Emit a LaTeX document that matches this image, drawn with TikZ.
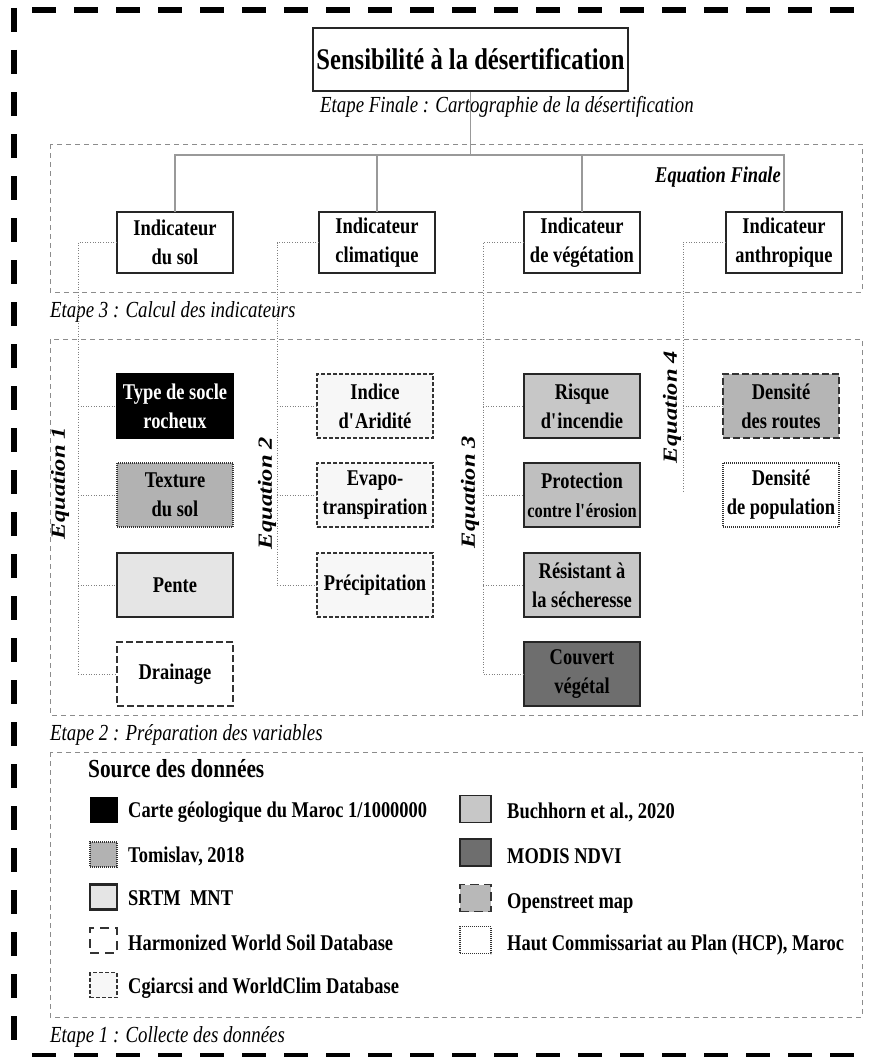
\documentclass[tikz,border=0pt]{standalone}
\usepackage{fontspec}
\usepackage{graphicx}
\setmainfont{Liberation Serif}[FakeStretch=0.82]
\newfontfamily\eqfont{Liberation Serif}
\tikzset{
  outer/.style={line width=5.5pt, dash pattern=on 24pt off 18pt, draw=black},
  region/.style={draw=black!45, line width=0.9pt, dash pattern=on 5pt off 4pt},
  conn/.style={draw=black!40, line width=1.3pt},
  dotc/.style={draw=black!50, line width=1pt, dash pattern=on 1pt off 1.6pt},
  bsolid/.style={draw=black!85, line width=1.6pt},
  bdashL/.style={draw=black!80, line width=1.6pt, dash pattern=on 7pt off 3pt},
  bdashS/.style={draw=black!80, line width=1.5pt, dash pattern=on 4pt off 2pt},
  bdot/.style={draw=black!80, line width=1.6pt, dash pattern=on 1pt off 1pt},
  boxfont/.style={font=\fontsize{22.5}{29}\selectfont\bfseries},
  vbox/.style={boxfont, minimum width=116pt, minimum height=64pt, inner sep=0pt, outer sep=0pt, anchor=north west, align=center},
  indbox/.style={boxfont, bsolid, fill=white, minimum width=116pt, minimum height=61pt, inner sep=0pt, outer sep=0pt, anchor=north, align=center},
  titlebox/.style={bsolid, fill=white, minimum width=315pt, minimum height=63pt, inner sep=0pt, font=\fontsize{30}{32}\selectfont\bfseries},
  lab/.style={anchor=base west, inner sep=0pt, font=\fontsize{23}{25}\selectfont\itshape},
  eqf/.style={anchor=base east, inner sep=0pt, font=\fontsize{22.5}{25}\selectfont\bfseries\itshape},
  eqv/.style={rotate=90, inner sep=0pt},
  lsq/.style={minimum width=27pt, minimum height=25pt, inner sep=0pt, outer sep=0pt},
  rsq/.style={minimum width=31pt, minimum height=27pt, inner sep=0pt, outer sep=0pt},
  ltext/.style={anchor=base west, inner sep=0pt, font=\fontsize{22.5}{25}\selectfont\bfseries},
}
\newcommand{\eqlabel}[1]{\scalebox{1}[0.82]{\eqfont\fontsize{24.5}{26}\selectfont\bfseries\itshape #1}}
\begin{document}
\begin{tikzpicture}[x=1pt,y=-1pt]
\useasboundingbox (0,0) rectangle (868,1057);
% outer frame
\draw[outer] (32,10) -- (868,10);
\draw[outer] (14,8) -- (14,1057);
\draw[outer] (32,1056) -- (868,1056);
% stage regions
\draw[region] (50,144) rectangle (862,292);
\draw[region] (50,339) rectangle (862,715);
\draw[region] (50,752) rectangle (862,1017);

% final stage
\node[titlebox] (title) at (470.5,59.5) {Sensibilité à la désertification};
\node[lab] (etF) at (320,112) {Etape Finale : Cartographie de la désertification};

% indicators
\node[indbox] (ind1) at (175,212) {Indicateur\\du sol};
\node[indbox] (ind2) at (377,212) {Indicateur\\climatique};
\node[indbox] (ind3) at (582,212) {Indicateur\\de végétation};
\node[indbox] (ind4) at (784,212) {Indicateur\\anthropique};
\node[eqf] (eqF) at (781,182) {Equation Finale};
\node[lab] (et3) at (50,317) {Etape 3 : Calcul des indicateurs};

\coordinate (bus) at (0,155);
\draw[conn] (title.south) -- (title.south |- bus);
\draw[conn] (ind1.north) |- (ind4.north |- bus) -- (ind4.north);
\draw[conn] (ind2.north) -- (ind2.north |- bus);
\draw[conn] (ind3.north) -- (ind3.north |- bus);

% variables
\node[vbox, bsolid, draw=black, fill=black, text=white] (v11) at (117,374) {Type de socle\\rocheux};
\node[vbox, bdot, fill=black!30] (v12) at (117,463) {Texture\\du sol};
\node[vbox, bsolid, fill=black!10] (v13) at (117,553) {Pente};
\node[vbox, bdashL, fill=white] (v14) at (117,642) {Drainage};

\node[vbox, bdashS, fill=black!3] (v21) at (317,374) {Indice\\d\textquotesingle Aridité};
\node[vbox, bdashS, fill=black!3] (v22) at (317,463) {Evapo-\\transpiration};
\node[vbox, bdashS, fill=black!3] (v23) at (317,553) {Précipitation};

\node[vbox, bsolid, fill=black!22] (v31) at (524,374) {Risque\\d\textquotesingle incendie};
\node[vbox, bsolid, line width=2.2pt, fill=black!25] (v32) at (524,463) {Protection\\{\fontsize{20}{24}\selectfont contre l\textquotesingle érosion}};
\node[vbox, bsolid, fill=black!22] (v33) at (524,553) {Résistant à\\la sécheresse};
\node[vbox, bsolid, fill=black!57] (v34) at (524,642) {Couvert\\végétal};

\node[vbox, bdashL, fill=black!29] (v41) at (723,374) {Densité\\des routes};
\node[vbox, bdot, fill=white] (v42) at (723,463) {Densité\\de population};

\node[lab] (et2) at (50,740) {Etape 2 : Préparation des variables};

% equations
\node[eqv] (eq1) at (60,483) {\eqlabel{Equation 1}};
\node[eqv] (eq2) at (267,493) {\eqlabel{Equation 2}};
\node[eqv] (eq3) at (470,492) {\eqlabel{Equation 3}};
\node[eqv] (eq4) at (672,407) {\eqlabel{Equation 4}};

\coordinate (e1) at (78,245);
\coordinate (e2) at (277,245);
\coordinate (e3) at (483,245);
\coordinate (e4) at (683,493);

\draw[dotc] (ind1.west) -| (v14.west -| e1) -- (v14.west);
\foreach \v in {v11,v12,v13} \draw[dotc] (\v.west -| e1) -- (\v.west);
\draw[dotc] (ind2.west) -| (v23.west -| e2) -- (v23.west);
\foreach \v in {v21,v22} \draw[dotc] (\v.west -| e2) -- (\v.west);
\draw[dotc] (ind3.west) -| (v34.west -| e3) -- (v34.west);
\foreach \v in {v31,v32,v33} \draw[dotc] (\v.west -| e3) -- (\v.west);
\draw[dotc] (ind4.west) -| (e4);
\draw[dotc] (v41.west -| e4) -- (v41.west);

% legend
\node[anchor=base west, inner sep=0pt, font=\fontsize{26}{28}\selectfont\bfseries] (src) at (88,777) {Source des données};

\node[lsq, fill=black, draw=black] (s1) at (103.5,809.5) {};
\node[lsq, bdot, fill=black!30] (s2) at (103.5,854.5) {};
\node[lsq, bsolid, line width=2.2pt, fill=black!10] (s3) at (103.5,897) {};
\node[lsq, bdashL, dash pattern=on 9pt off 6pt, fill=white] (s4) at (103.5,940.5) {};
\node[lsq, bdashS, fill=black!3] (s5) at (103.5,985) {};

\node[ltext] (t1) at (128,817) {Carte géologique du Maroc 1/1000000};
\node[ltext] (t2) at (128,862) {Tomislav, 2018};
\node[ltext] (t3) at (128,905) {SRTM\ \ MNT};
\node[ltext] (t4) at (128,950) {Harmonized World Soil Database};
\node[ltext] (t5) at (128,993) {Cgiarcsi and WorldClim Database};

\node[rsq, bsolid, fill=black!22] (r1) at (475.5,809) {};
\node[rsq, bsolid, fill=black!57] (r2) at (475.5,852.5) {};
\node[rsq, bdashL, dash pattern=on 9pt off 5pt, fill=black!28] (r3) at (475.5,898) {};
\node[rsq, bdot, fill=white] (r4) at (475.5,940) {};

\node[ltext] (t6) at (507,818) {Buchhorn et al., 2020};
\node[ltext] (t7) at (507,863) {MODIS NDVI};
\node[ltext] (t8) at (507,908) {Openstreet map};
\node[ltext] (t9) at (507,950) {Haut Commissariat au Plan (HCP), Maroc};

\node[lab] (et1) at (50,1042) {Etape 1 : Collecte des données};
\end{tikzpicture}
\end{document}
